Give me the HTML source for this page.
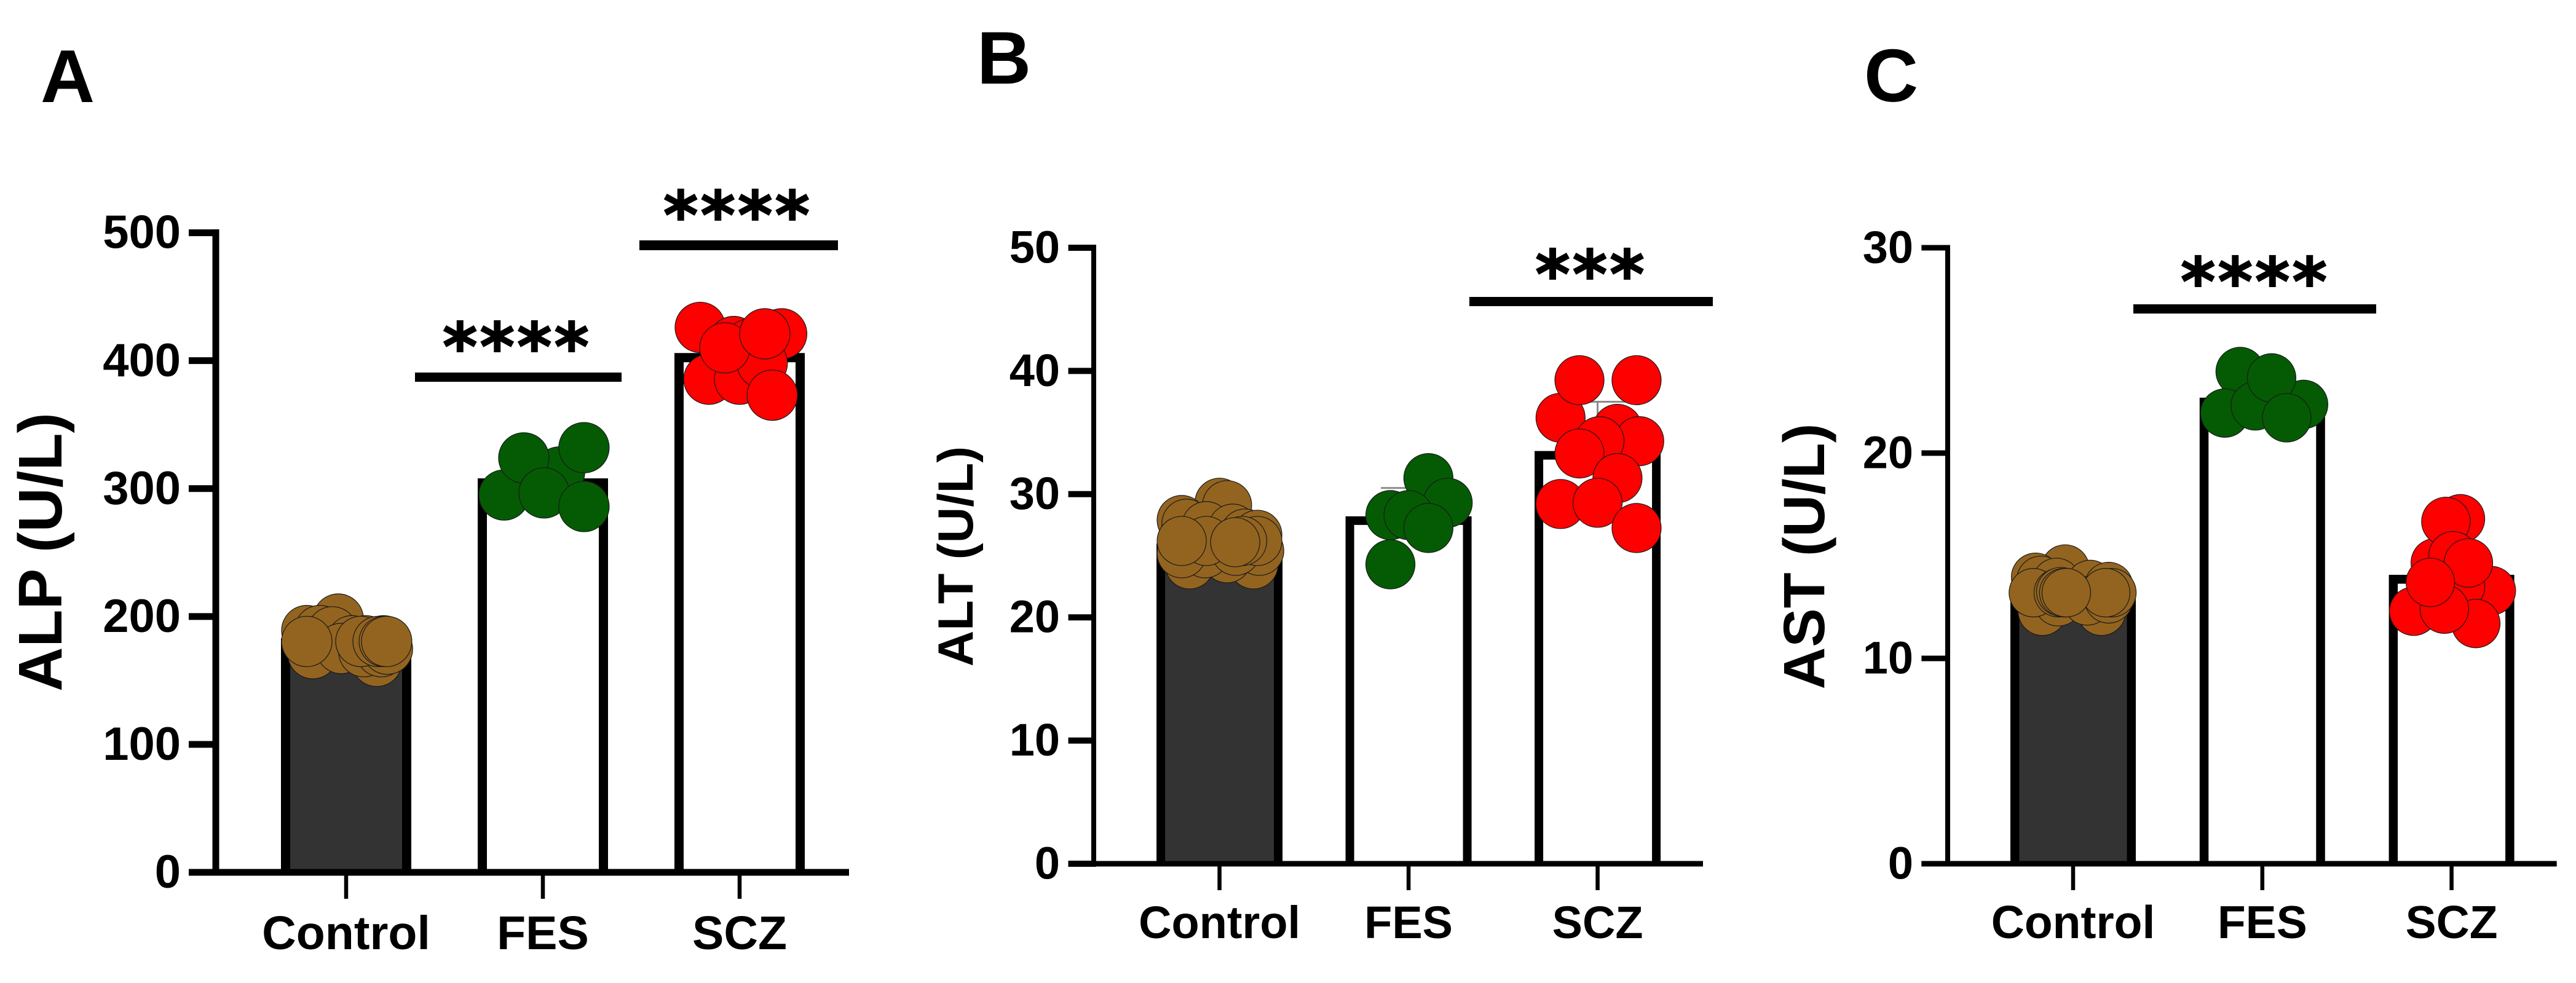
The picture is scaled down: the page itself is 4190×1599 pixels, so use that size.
<!DOCTYPE html>
<html lang="en">
<head>
<meta charset="utf-8">
<title>Liver enzymes by group</title>
<style>
html,body{margin:0;padding:0;background:#fff;}
svg{display:block;}
text{font-family:"Liberation Sans",sans-serif;font-weight:bold;fill:#000;}
.stars{font-family:"DejaVu Sans",sans-serif;font-size:108px;letter-spacing:4px;text-anchor:middle;stroke:#000;stroke-width:2px;}
.panel-letter{font-size:122px;}
</style>
</head>
<body>
<svg id="figure" xmlns="http://www.w3.org/2000/svg" width="4190" height="1599" viewBox="0 0 4190 1599">
  <rect x="0" y="0" width="4190" height="1599" fill="#fff"/>
  <text class="panel-letter" x="66" y="166">A</text>
  <text class="panel-letter" x="1589" y="136">B</text>
  <text class="panel-letter" x="3032" y="165">C</text>

  <text font-size="100" text-anchor="middle" transform="translate(100 898) rotate(-90)">ALP (U/L)</text>
  <text font-size="81" text-anchor="middle" transform="translate(1582 905) rotate(-90)">ALT (U/L)</text>
  <text font-size="95" text-anchor="middle" transform="translate(2967 905) rotate(-90)">AST (U/L)</text>

  <rect x="675" y="606" width="336" height="15" fill="#000"/>
  <rect x="1040" y="391" width="323" height="16" fill="#000"/>
  <rect x="2390" y="483" width="396" height="15" fill="#000"/>
  <rect x="3470" y="495" width="395" height="15" fill="#000"/>

  <text class="stars" x="841" y="602">****</text>
  <text class="stars" x="1200" y="388">****</text>
  <text class="stars" x="2588" y="484">***</text>
  <text class="stars" x="3668" y="496">****</text>
  <g id="charts"></g>
</svg>
<script>
const categories = ['Control', 'FES', 'SCZ'];

const alpTicks = [0, 100, 200, 300, 400, 500];
const altTicks = [0, 10, 20, 30, 40, 50];
const astTicks = [0, 10, 20, 30];

const alpMeans = [183, 308, 406];
const altMeans = [26, 28.2, 33.5];
const astMeans = [13.4, 22.7, 14.07];

const alpErrors = [4, 10, 8];
const altErrors = [0.6, 2.3, 4];
const astErrors = [0.3, 0.5, 1];

const alpControl = [198, 189, 189, 188, 181, 181, 181, 171, 165, 175, 172.5, 172.5, 174.5, 180.5, 180.5, 180.5, 180.5, 180.5];
const alpControlJitter = [-0.04, -0.2, -0.134, -0.07, 0.03, 0.1, 0.19, -0.169, 0.156, -0.025, 0.09, 0.178, 0.21, -0.2, 0.075, 0.1625, 0.194, 0.206];
const alpFes = [313, 295, 324, 332, 296.6, 286];
const alpFesJitter = [0.085, -0.197, -0.097, 0.209, 0.006, 0.209];
const alpScz = [421, 426, 415, 413, 385.5, 385.5, 398, 410, 421, 373];
const alpSczJitter = [0.214, -0.2, -0.03, 0.05, -0.156, 0, 0.115, -0.075, 0.128, 0.166];

const altControl = [29.3, 29.1, 27.9, 27.6, 27.4, 27.2, 26.8, 26.7, 24.3, 24.3, 24.8, 25.2, 25.2, 25.4, 25.4, 26.2, 26.2, 26.2, 26.2, 26.1];
const altControlJitter = [0, 0.04, -0.2, -0.175, -0.07, 0.07, 0.135, 0.2, -0.158, 0.18, 0.04, -0.076, -0.2, 0.21, 0.086, 0.2, 0.12, -0.07, -0.2, 0.083];
const altFes = [31.3, 29.3, 28.3, 28.3, 27.25, 24.3];
const altFesJitter = [0.105, 0.207, -0.096, 0, 0.105, -0.096];
const altScz = [36.2, 35.3, 34.3, 34.3, 33.3, 31.3, 29.2, 29.3, 27.25, 39.25, 39.25];
const altSczJitter = [-0.196, 0.105, 0.22, 0.01, -0.096, 0.105, -0.196, 0, 0.206, -0.096, 0.206];

const astControl = [14.35, 13.95, 13.8, 13.7, 13.6, 13.5, 12.3, 12.3, 12.76, 12.8, 12.9, 13.2, 13.2, 13.2, 13.2, 13.25, 13.2, 13.2];
const astControlJitter = [-0.042, -0.198, -0.17, -0.088, 0.09, 0.188, -0.162, 0.15, -0.078, 0.075, 0.188, -0.21, 0.205, 0.172, -0.078, -0.065, -0.049, -0.036];
const astFes = [23.97, 22.37, 21.95, 22.3, 23.66, 21.72];
const astFesJitter = [-0.117, 0.218, -0.198, -0.037, 0.049, 0.129];
const astScz = [16.8, 13.3, 14.66, 12.3, 13.5, 11.7, 12.4, 16.67, 15, 14.65, 13.7];
const astSczJitter = [0.047, 0.21, -0.086, -0.2, 0.047, 0.128, -0.038, -0.03, 0.008, 0.089, -0.112];

const SVG_NS = 'http://www.w3.org/2000/svg';
const root = document.getElementById('charts');
const dotColors = ['#936420', '#045b04', '#ff0000'];
const barFills = ['#333333', '#ffffff', '#ffffff'];

function make(tag, parent) {
  const el = document.createElementNS(SVG_NS, tag);
  parent.appendChild(el);
  return el;
}
function setAll(el, props) {
  for (const k in props) el.setAttribute(k, props[k]);
}

function drawPanel(p) {
  const g = make('g', root);
  
  

  const yScale = v => p.y0 - (v / p.max) * (p.y0 - p.yTop);
  const xScale = i => p.cx0 + i * p.step;
  const jitterScale = j => j * p.step;

  // bars: filled body with an open-bottom outline (the baseline is the x axis)
  p.means.forEach((m, i) => {
    const left = xScale(i) - p.barW / 2 + p.wall / 2;
    const right = xScale(i) + p.barW / 2 - p.wall / 2;
    const top = yScale(m) + p.wall / 2;
    const bar = make('path', g);
    bar.setAttribute('d', 'M' + left + ' ' + p.y0 + 'V' + top + 'H' + right + 'V' + p.y0);
    setAll(bar, {
      fill: barFills[i],
      stroke: '#000',
      'stroke-width': p.wall
    });
    
    
  });

  // error bars
  p.errors.forEach((e, i) => {
    const err = make('path', g);
    const top = yScale(p.means[i] + e);
    const cx = xScale(i);
    err.setAttribute('d', 'M' + cx + ' ' + yScale(p.means[i]) + 'V' + top + 'M' + (cx - 45) + ' ' + top + 'H' + (cx + 45));
    setAll(err, { stroke: '#8a8a8a', 'stroke-width': 3, fill: 'none' });
    
    
  });

  // points
  p.points.forEach((values, i) => {
    values.forEach((v, k) => {
      const dot = make('circle', g);
      setAll(dot, {
        cx: xScale(i) + jitterScale(p.jitter[i][k]),
        cy: yScale(v),
        r: p.r,
        fill: dotColors[i],
        stroke: '#1a1a1a',
        'stroke-width': 1.2
      });
      
      
    });
  });

  // y axis
  const spine = make('line', g);
  setAll(spine, {
    x1: p.spineX, x2: p.spineX,
    y1: p.yTop - p.tickW / 2, y2: p.y0,
    stroke: '#000', 'stroke-width': p.spineW
  });
  
  

  p.ticks.forEach(t => {
    const tick = make('line', g);
    setAll(tick, {
      x1: p.tickLeft, x2: p.spineX + p.spineW / 2,
      y1: yScale(t), y2: yScale(t),
      stroke: '#000', 'stroke-width': p.tickW
    });
    
    

    const label = make('text', g);
    setAll(label, {
      x: p.labelRight,
      y: yScale(t) + p.tickFont * 0.33,
      'font-size': p.tickFont,
      'text-anchor': 'end'
    });
    label.textContent = String(t);
    
    
  });

  // x axis
  const xAxis = make('line', g);
  setAll(xAxis, {
    x1: p.tickLeft, x2: p.axisRight,
    y1: p.y0, y2: p.y0,
    stroke: '#000', 'stroke-width': p.xAxisW
  });
  
  

  categories.forEach((c, i) => {
    const tick = make('line', g);
    setAll(tick, {
      x1: xScale(i), x2: xScale(i),
      y1: p.y0, y2: p.y0 + 43,
      stroke: '#000', 'stroke-width': 6.5
    });
    
    

    const label = make('text', g);
    setAll(label, {
      x: xScale(i),
      y: p.catBaseline,
      'font-size': p.catFont,
      'text-anchor': 'middle'
    });
    label.textContent = c;
    
    
  });
}

drawPanel({
  name: 'alp', ticks: alpTicks, max: 500, means: alpMeans, errors: alpErrors,
  points: [alpControl, alpFes, alpScz],
  jitter: [alpControlJitter, alpFesJitter, alpSczJitter],
  y0: 1419, yTop: 378.6, cx0: 563, step: 320, barW: 212, wall: 15, r: 41,
  spineX: 351, spineW: 11, tickW: 11, xAxisW: 11, tickLeft: 307, axisRight: 1381,
  labelRight: 294, tickFont: 76, catFont: 77, catBaseline: 1544
});
drawPanel({
  name: 'alt', ticks: altTicks, max: 50, means: altMeans, errors: altErrors,
  points: [altControl, altFes, altScz],
  jitter: [altControlJitter, altFesJitter, altSczJitter],
  y0: 1405, yTop: 403, cx0: 1983.6, step: 307.5, barW: 205, wall: 14, r: 40,
  spineX: 1779, spineW: 8, tickW: 10, xAxisW: 9, tickLeft: 1737.6, axisRight: 2770,
  labelRight: 1724, tickFont: 74, catFont: 74, catBaseline: 1526
});
drawPanel({
  name: 'ast', ticks: astTicks, max: 30, means: astMeans, errors: astErrors,
  points: [astControl, astFes, astScz],
  jitter: [astControlJitter, astFesJitter, astSczJitter],
  y0: 1405, yTop: 403, cx0: 3372, step: 307.8, barW: 204, wall: 14.5, r: 39.5,
  spineX: 3168, spineW: 8, tickW: 9, xAxisW: 9, tickLeft: 3125.4, axisRight: 4158.7,
  labelRight: 3112, tickFont: 74, catFont: 75, catBaseline: 1526
});
</script>
</body>
</html>
